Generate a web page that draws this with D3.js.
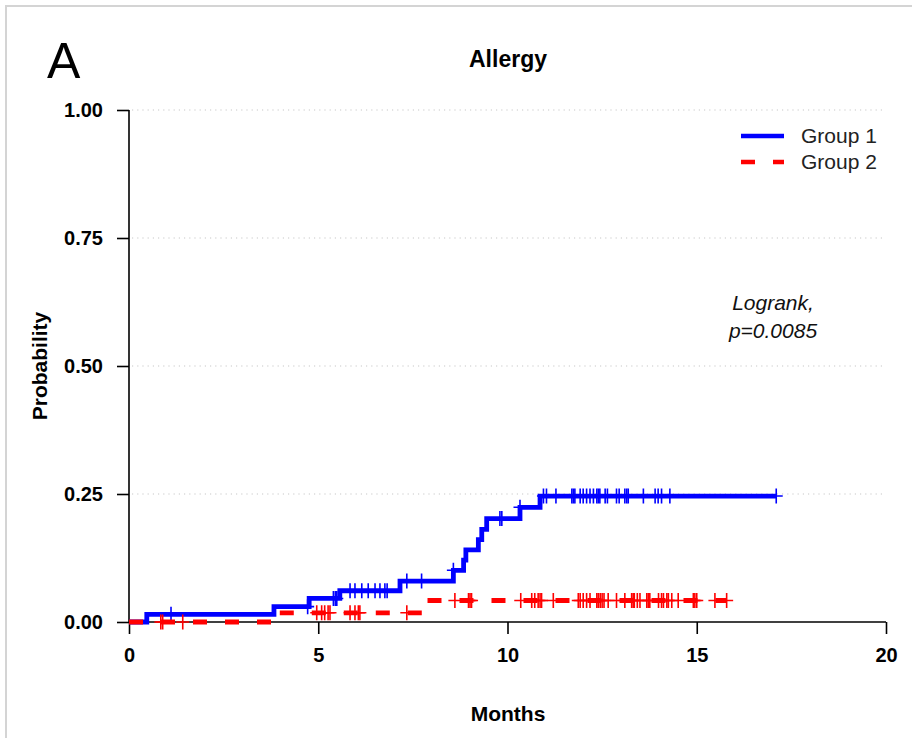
<!DOCTYPE html>
<html>
<head>
<meta charset="utf-8">
<script src="https://cdn.jsdelivr.net/npm/d3@7"></script>
<style>
  html, body { margin: 0; padding: 0; background: #fff; }
  svg { display: block; font-family: "Liberation Sans", Arial, Helvetica, sans-serif; }
</style>
</head>
<body>
<svg id="chart" width="912" height="738"></svg>
<script>
// Cumulative incidence steps (time in months, probability after the step)
const group1StepTimes = [0.47, 3.83, 4.76, 5.57, 7.16, 8.57, 8.84, 8.90, 9.23, 9.32, 9.45, 10.33, 10.86];
const group1StepValues = [0.015, 0.030, 0.046, 0.061, 0.080, 0.101, 0.121, 0.141, 0.161, 0.181, 0.202, 0.224, 0.246];
const group1Censored = [1.11, 4.72, 5.40, 5.45, 5.49, 5.84, 5.97, 6.15, 6.32, 6.50, 6.63, 6.76, 6.82,
  7.34, 7.73, 8.57, 9.80, 9.85, 10.33, 10.95, 11.03, 11.28, 11.70, 11.74, 11.78, 11.92, 12.00,
  12.09, 12.18, 12.27, 12.36, 12.40, 12.44, 12.58, 12.64, 12.88, 12.95, 13.10, 13.15, 13.19,
  13.59, 13.90, 13.98, 14.07, 14.29, 17.10];

const group2StepTimes = [3.85, 7.95];
const group2StepValues = [0.018, 0.042];
const group2Censored = [0.84, 0.89, 1.42, 4.96, 5.09, 5.17, 5.26, 5.31, 5.84, 5.97, 6.06, 6.10, 7.34,
  8.61, 8.97, 9.01, 9.05, 10.35, 10.64, 10.72, 10.81, 10.86, 10.90, 11.21, 11.87, 11.92, 12.00, 12.09,
  12.18, 12.36, 12.40, 12.45, 12.50, 12.55, 12.66, 12.88, 13.10, 13.28, 13.32, 13.35, 13.43, 13.50,
  13.68, 13.72, 13.76, 13.99, 14.07, 14.12, 14.21, 14.25, 14.34, 14.51, 14.91, 14.95, 15.00, 15.48, 15.79];

const seriesNames = ["Group 1", "Group 2"];
const seriesColors = ["#0000ff", "#ff0000"];
const xTicks = [0, 5, 10, 15, 20];
const yTicks = [0, 0.25, 0.5, 0.75, 1.0];
const gridTicks = [0.25, 0.5, 0.75, 1.0];
const chartTitle = "Allergy";
const panelLetter = "A";
const xTitle = "Months";
const yTitle = "Probability";
const testLines = ["Logrank,", "p=0.0085"];

const svg = d3.select("#chart");
const plotLeft = 129, plotRight = 886, plotTop = 110, plotBottom = 622;

const x = d3.scaleLinear().domain([0, 20]).range([plotLeft, plotRight]);
const y = d3.scaleLinear().domain([0, 1]).range([plotBottom, plotTop]);

// Partial frame along the top and left edges
svg.append("path")
  .attr("d", "M6,738 L6,6 L912,6")
  .attr("fill", "none").attr("stroke", "#d4d4d4").attr("stroke-width", 2);

// Dotted horizontal grid
svg.append("g").selectAll("line").data(gridTicks).join("line")
  .attr("x1", plotLeft + 3).attr("x2", plotRight)
  .attr("y1", d => y(d)).attr("y2", d => y(d))
  .attr("stroke", "#c8c8c8").attr("stroke-width", 1.2)
  .attr("stroke-dasharray", "1.2,4");

// Axes
const xAxis = d3.axisBottom(x).tickValues(xTicks).tickSize(12).tickPadding(14)
  .tickFormat(d3.format("d"));
const yAxis = d3.axisLeft(y).tickValues(yTicks).tickSize(12).tickPadding(14)
  .tickFormat(d3.format(".2f"));

const gx = svg.append("g").attr("transform", `translate(0,${plotBottom})`).call(xAxis);
const gy = svg.append("g").attr("transform", `translate(${plotLeft},0)`).call(yAxis);
[gx, gy].forEach(g => {
  g.select(".domain").attr("stroke", "#000").attr("stroke-width", 1.6);
  g.selectAll(".tick line").attr("stroke", "#000").attr("stroke-width", 1.6);
  g.selectAll(".tick text").attr("fill", "#000")
    .style("font-family", '"Liberation Sans", Arial, sans-serif')
    .style("font-size", "20px").style("font-weight", "bold");
});
gx.select(".domain").attr("d", `M${plotLeft},0H${plotRight}`);
gy.select(".domain").attr("d", `M0,${plotTop}V${plotBottom}`);

// Step curves
function stepPoints(times, values, end) {
  const pts = [[0, 0]];
  times.forEach((t, i) => pts.push([t, values[i]]));
  pts.push([end, values[values.length - 1]]);
  return pts;
}
function valueAt(times, values, t) {
  let v = 0;
  times.forEach((s, i) => { if (t >= s) v = values[i]; });
  return v;
}

const line = d3.line().x(d => x(d[0])).y(d => y(d[1])).curve(d3.curveStepAfter);

const series = [
  { times: group1StepTimes, values: group1StepValues, cens: group1Censored, dash: null, width: 4.8 },
  { times: group2StepTimes, values: group2StepValues, cens: group2Censored, dash: "14,18", width: 4.8 }
];

series.forEach((s, i) => {
  const end = s.cens[s.cens.length - 1];
  svg.append("path")
    .datum(stepPoints(s.times, s.values, end))
    .attr("d", line)
    .attr("fill", "none")
    .attr("stroke", seriesColors[i])
    .attr("stroke-width", s.width)
    .attr("stroke-dasharray", s.dash)
    .attr("stroke-linejoin", "miter");

  // Censoring marks (+)
  const g = svg.append("g").attr("stroke", seriesColors[i]).attr("stroke-width", 1.6);
  g.selectAll("path").data(s.cens).join("path")
    .attr("d", t => {
      const cx = x(t), cy = y(valueAt(s.times, s.values, t));
      return `M${cx - 6.5},${cy}H${cx + 6.5}M${cx},${cy - 7.5}V${cy + 7.5}`;
    });
});

// Titles
svg.append("text").attr("x", 47).attr("y", 78)
  .style("font-size", "50px").text(panelLetter);
svg.append("text").attr("x", 508).attr("y", 67).attr("text-anchor", "middle")
  .style("font-size", "23px").style("font-weight", "bold").text(chartTitle);
svg.append("text").attr("x", 508).attr("y", 721).attr("text-anchor", "middle")
  .style("font-size", "21px").style("font-weight", "bold").text(xTitle);
svg.append("text").attr("transform", "translate(47,366) rotate(-90)").attr("text-anchor", "middle")
  .style("font-size", "21px").style("font-weight", "bold").text(yTitle);

// Test result annotation
svg.append("g").selectAll("text").data(testLines).join("text")
  .attr("x", 773).attr("y", (d, i) => 310 + i * 28).attr("text-anchor", "middle")
  .style("font-size", "21px").style("font-style", "italic").attr("fill", "#111").text(d => d);

// Legend
const legend = svg.append("g");
seriesNames.forEach((name, i) => {
  const ly = 136 + i * 26;
  legend.append("line").attr("x1", 741).attr("x2", 784).attr("y1", ly).attr("y2", ly)
    .attr("stroke", seriesColors[i]).attr("stroke-width", 4.5)
    .attr("stroke-dasharray", i === 1 ? "14,18" : null);
  legend.append("text").attr("x", 801).attr("y", ly + 7)
    .style("font-size", "21px").attr("fill", "#222").text(name);
});
</script>
</body>
</html>
